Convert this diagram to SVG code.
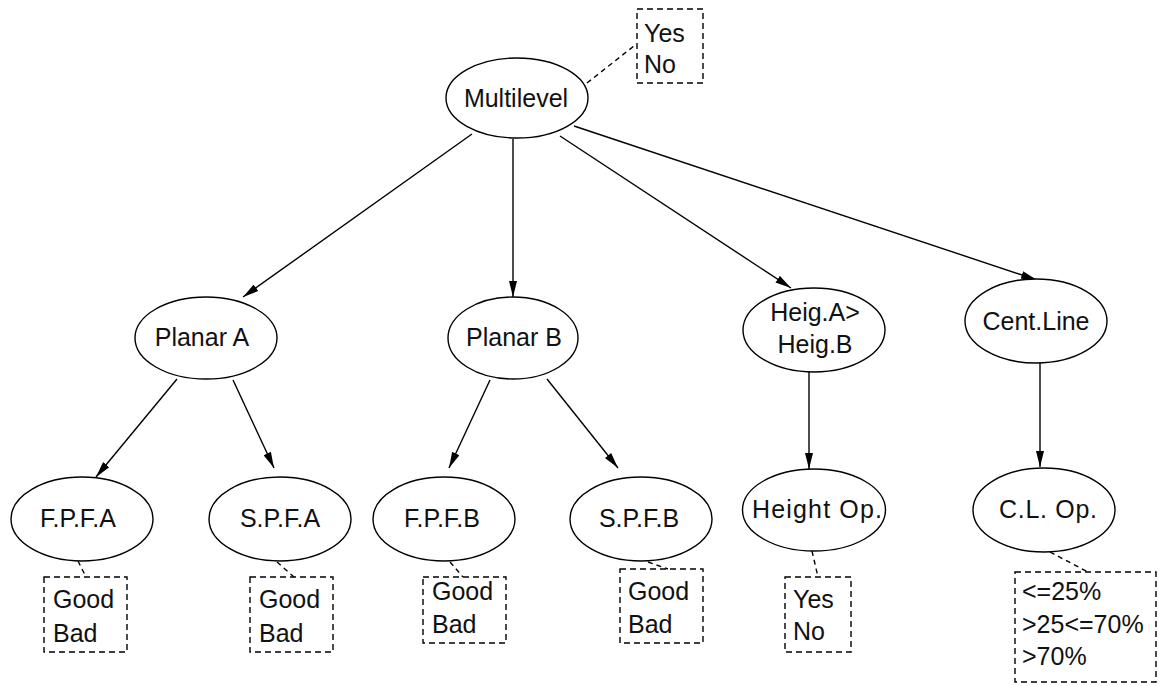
<svg xmlns="http://www.w3.org/2000/svg" width="1161" height="686" viewBox="0 0 1161 686">
  <style>
    .node ellipse { fill: #fff; stroke: #000; stroke-width: 1.4; }
    .label { font-family: "Liberation Sans", Arial, sans-serif; font-size: 25px; fill: #111; }
    .c { text-anchor: middle; }
    .box rect { fill: none; stroke: #000; stroke-width: 1.4; stroke-dasharray: 6 4; }
    .edge { stroke: #000; stroke-width: 1.4; fill: none; marker-end: url(#arrow); }
    .note { stroke: #000; stroke-width: 1.4; fill: none; stroke-dasharray: 5 4; }
  </style>
  <defs>
    <marker id="arrow" viewBox="0 0 16 8" refX="16" refY="4" markerWidth="16" markerHeight="8" markerUnits="userSpaceOnUse" orient="auto">
      <path d="M0,0 L16,4 L0,8 Z" fill="#000"/>
    </marker>
  </defs>
  <rect width="1161" height="686" fill="#fff"/>

  <!-- connectors -->
  <g id="connectors">
    <line class="edge" x1="472" y1="134" x2="243" y2="297"/>
    <line class="edge" x1="513" y1="139" x2="513" y2="297"/>
    <line class="edge" x1="560" y1="136" x2="791" y2="288"/>
    <line class="edge" x1="574" y1="126" x2="1037" y2="280"/>
    <line class="edge" x1="177" y1="379" x2="96" y2="477"/>
    <line class="edge" x1="233" y1="380" x2="274" y2="468"/>
    <line class="edge" x1="490" y1="380" x2="449" y2="468"/>
    <line class="edge" x1="547" y1="379" x2="618" y2="468"/>
    <line class="edge" x1="809" y1="372" x2="809" y2="469"/>
    <line class="edge" x1="1040" y1="363" x2="1040" y2="467"/>
    <!-- dashed links to value boxes -->
    <line class="note" x1="587" y1="83" x2="634" y2="46"/>
    <line class="note" x1="78" y1="561" x2="86" y2="577"/>
    <line class="note" x1="277" y1="562" x2="294" y2="577"/>
    <line class="note" x1="450" y1="562" x2="463" y2="577"/>
    <line class="note" x1="648" y1="562" x2="668" y2="569"/>
    <line class="note" x1="812" y1="551" x2="818" y2="577"/>
    <line class="note" x1="1050" y1="552" x2="1088" y2="572"/>
  </g>

  <!-- decision nodes -->
  <g id="multilevel" class="node">
    <ellipse cx="517" cy="98" rx="71" ry="40"/>
    <text class="label c" x="516" y="107">Multilevel</text>
  </g>
  <g id="planarA" class="node">
    <ellipse cx="206" cy="338" rx="71" ry="41"/>
    <text class="label c" x="202" y="346">Planar A</text>
  </g>
  <g id="planarB" class="node">
    <ellipse cx="513" cy="338" rx="65" ry="41"/>
    <text class="label c" x="514" y="346">Planar B</text>
  </g>
  <g id="heig" class="node">
    <ellipse cx="814" cy="330" rx="71" ry="42"/>
    <text class="label c" x="815" y="321">Heig.A&gt;</text>
    <text class="label c" x="815" y="353">Heig.B</text>
  </g>
  <g id="centLine" class="node">
    <ellipse cx="1036" cy="321" rx="71" ry="42"/>
    <text class="label c" x="1036" y="330">Cent.Line</text>
  </g>
  <g id="fpfa" class="node">
    <ellipse cx="82" cy="519" rx="71" ry="42"/>
    <text class="label c" x="78" y="527">F.P.F.A</text>
  </g>
  <g id="spfa" class="node">
    <ellipse cx="280" cy="519" rx="71" ry="42"/>
    <text class="label c" x="280" y="527">S.P.F.A</text>
  </g>
  <g id="fpfb" class="node">
    <ellipse cx="444" cy="519" rx="71" ry="42"/>
    <text class="label c" x="442" y="527">F.P.F.B</text>
  </g>
  <g id="spfb" class="node">
    <ellipse cx="641" cy="519" rx="71" ry="42"/>
    <text class="label c" x="639" y="527">S.P.F.B</text>
  </g>
  <g id="heightOp" class="node">
    <ellipse cx="814" cy="510" rx="71.5" ry="41"/>
    <text class="label c" x="817" y="518" textLength="130" lengthAdjust="spacing">Height Op.</text>
  </g>
  <g id="clOp" class="node">
    <ellipse cx="1044" cy="510" rx="71" ry="42"/>
    <text class="label c" x="1048" y="518" textLength="98" lengthAdjust="spacing">C.L. Op.</text>
  </g>

  <!-- value boxes -->
  <g id="values-multilevel" class="box">
    <rect x="637" y="9" width="66" height="74"/>
    <text class="label" x="644" y="42">Yes</text>
    <text class="label" x="644" y="73">No</text>
  </g>
  <g id="values-fpfa" class="box">
    <rect x="44" y="577" width="83" height="75"/>
    <text class="label" x="53" y="608">Good</text>
    <text class="label" x="53" y="642">Bad</text>
  </g>
  <g id="values-spfa" class="box">
    <rect x="250" y="577" width="83" height="75"/>
    <text class="label" x="259" y="608">Good</text>
    <text class="label" x="259" y="642">Bad</text>
  </g>
  <g id="values-fpfb" class="box">
    <rect x="423" y="577" width="83" height="66"/>
    <text class="label" x="432" y="600">Good</text>
    <text class="label" x="432" y="633">Bad</text>
  </g>
  <g id="values-spfb" class="box">
    <rect x="620" y="569" width="83" height="74"/>
    <text class="label" x="628" y="600">Good</text>
    <text class="label" x="628" y="633">Bad</text>
  </g>
  <g id="values-height" class="box">
    <rect x="785" y="577" width="66" height="75"/>
    <text class="label" x="793" y="608">Yes</text>
    <text class="label" x="793" y="640">No</text>
  </g>
  <g id="values-cl" class="box">
    <rect x="1015" y="572" width="141" height="110"/>
    <text class="label" x="1022" y="600">&lt;=25%</text>
    <text class="label" x="1022" y="633">&gt;25&lt;=70%</text>
    <text class="label" x="1022" y="665">&gt;70%</text>
  </g>
</svg>
